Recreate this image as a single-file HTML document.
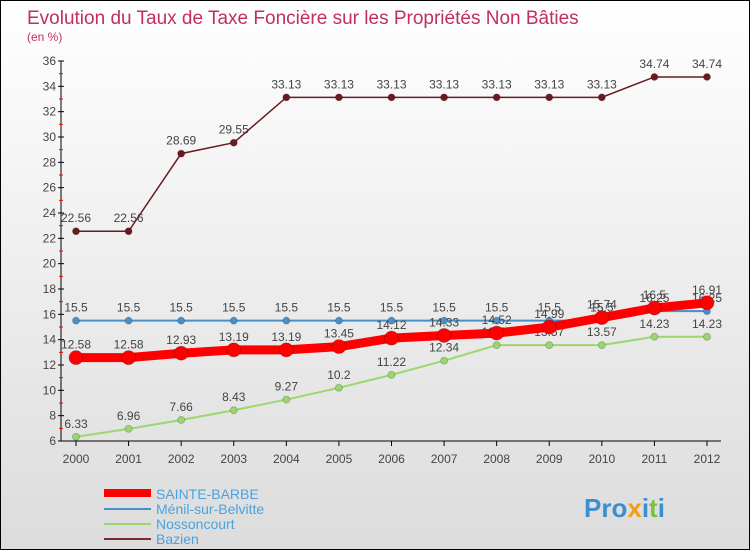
<!DOCTYPE html>
<html><head><meta charset="utf-8"><style>
body{margin:0}
#c{width:748px;height:548px;border:1px solid #000;background:linear-gradient(#fff,#dcdcdc);position:relative;font-family:"Liberation Sans",sans-serif;overflow:hidden}
</style></head><body>
<div id="c">
<svg id="s" width="748" height="548" xmlns="http://www.w3.org/2000/svg" font-family="Liberation Sans, sans-serif">
<text x="26" y="23" font-size="19" fill="#c0305a">Evolution du Taux de Taxe Foncière sur les Propriétés Non Bâties</text>
<text x="26" y="40" font-size="12" fill="#c0305a">(en %)</text>
<g id="axes"></g><g id="series"></g>
<g>
<line x1="103" y1="492" x2="150" y2="492" stroke="#f00" stroke-width="8"/><text x="155" y="498" font-size="14" fill="#4aa3df">SAINTE-BARBE</text>
<line x1="103" y1="508" x2="150" y2="508" stroke="#4a90c8" stroke-width="2"/><text x="155" y="513" font-size="14" fill="#4aa3df">Ménil-sur-Belvitte</text>
<line x1="103" y1="523" x2="150" y2="523" stroke="#9ad86e" stroke-width="2"/><text x="155" y="528" font-size="14" fill="#4aa3df">Nossoncourt</text>
<line x1="103" y1="538" x2="150" y2="538" stroke="#7a2a30" stroke-width="2"/><text x="155" y="543" font-size="14" fill="#4aa3df">Bazien</text>
</g>
<text x="583" y="516" font-size="26" font-weight="bold" fill="#3a8fd0">Pro<tspan fill="#f39c12">x</tspan>i<tspan fill="#7cc242">t</tspan>i</text>
</svg></div>
<script>
const years=[2000,2001,2002,2003,2004,2005,2006,2007,2008,2009,2010,2011,2012];
const yTicks=[6,8,10,12,14,16,18,20,22,24,26,28,30,32,34,36];
const sainteBarbe=[12.58,12.58,12.93,13.19,13.19,13.45,14.12,14.33,14.52,14.99,15.74,16.5,16.91];
const menil=[15.5,15.5,15.5,15.5,15.5,15.5,15.5,15.5,15.5,15.5,15.5,16.25,16.25];
const nossoncourt=[6.33,6.96,7.66,8.43,9.27,10.2,11.22,12.34,13.57,13.57,13.57,14.23,14.23];
const bazien=[22.56,22.56,28.69,29.55,33.13,33.13,33.13,33.13,33.13,33.13,33.13,34.74,34.74];
const NS="http://www.w3.org/2000/svg";
const X=i=>75+i*(706-75)/(years.length-1);
const Y=v=>440-(v-6)*380/30;
function mk(t,a,p){const e=document.createElementNS(NS,t);for(const k in a)e.setAttribute(k,a[k]);p.appendChild(e);return e;}
const ax=document.getElementById('axes');
const yl=mk('line',{x1:60,y1:60,x2:60,y2:440,stroke:'#000'},ax);


const xl=mk('line',{x1:60,y1:440,x2:720,y2:440,stroke:'#000'},ax);


yTicks.forEach(v=>{
 mk('line',{x1:57,y1:Y(v),x2:63,y2:Y(v),stroke:'#000'},ax);
 if(v<36)mk('line',{x1:58,y1:Y(v+1),x2:62,y2:Y(v+1),stroke:'#f00'},ax);
 const t=mk('text',{x:55,y:Y(v)+4,'font-size':12,'text-anchor':'end',fill:'#444'},ax);t.textContent=v;
 
 
});
years.forEach((y,i)=>{
 mk('line',{x1:X(i),y1:440,x2:X(i),y2:445,stroke:'#000'},ax);
 const t=mk('text',{x:X(i),y:462,'font-size':12,'text-anchor':'middle',fill:'#444'},ax);t.textContent=y;
 
 
});
const sg=document.getElementById('series');
function draw(name,data,col,w,r,above){
 const g=mk('g',{},sg);
 
 
 mk('polyline',{points:data.map((v,i)=>X(i)+','+Y(v)).join(' '),fill:'none',stroke:col,'stroke-width':w},g);
 data.forEach((v,i)=>{
  const c=mk('circle',{cx:X(i),cy:Y(v),r:r,fill:col,stroke:'#0003'},g);
  
  
  const t=mk('text',{x:X(i),y:Y(v)+(above?-9:18),'font-size':12,'text-anchor':'middle',fill:'#444'},g);t.textContent=v;
 });
}
draw('nossoncourt-series',nossoncourt,'#9ad86e',2,3.5,true);
draw('menil-series',menil,'#4a90c8',2,3.5,true);
draw('bazien-series',bazien,'#6a1a20',1.5,3.5,true);
draw('sainte-barbe-series',sainteBarbe,'#f00',9,7,true);
</script>
</body></html>
